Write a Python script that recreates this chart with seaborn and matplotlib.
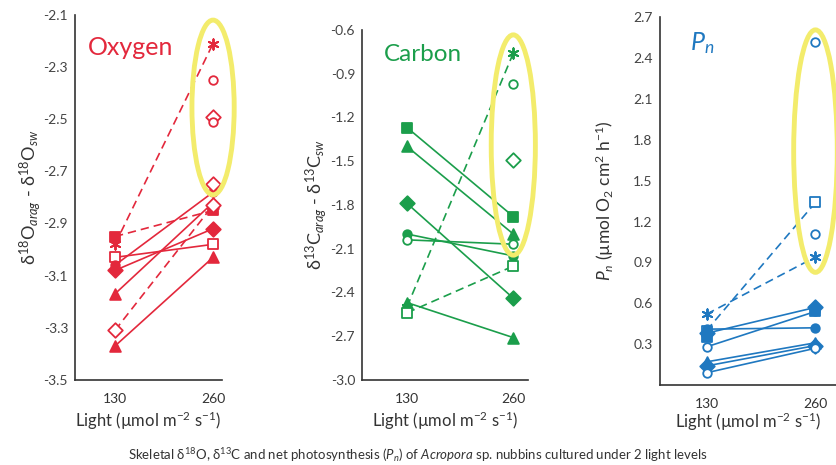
import seaborn as sns
import matplotlib.pyplot as plt
import numpy as np
import pandas as pd
from matplotlib.patches import Ellipse

LIGHT = [130, 260]

# Oxygen: per-nubbin values at 130 and 260
ox_marker = ['^', '^', 'D', 's', 'o', 's', '*', 'D']
ox_filled = [True, True, True, False, True, True, True, False]
ox_130 = [-3.37, -3.17, -3.08, -3.03, -3.06, -2.95, -2.98, -3.31]
ox_260 = [-3.03, -2.82, -2.92, -2.98, -2.78, -2.85, -2.21, -2.83]
ox_dash = [False, False, False, False, False, True, True, True]
ox_extra_marker = ['o', 'D', 'o', 'D']
ox_extra_260 = [-2.35, -2.49, -2.51, -2.75]

# Carbon
c_marker = ['s', '^', 'D', 'o', 'o', '^', '*', 's']
c_filled = [True, True, True, True, False, True, True, False]
c_130 = [-1.27, -1.40, -1.79, -2.00, -2.04, -2.47, -2.50, -2.54]
c_260 = [-1.88, -2.00, -2.44, -2.15, -2.07, -2.71, -0.76, -2.22]
c_dash = [False, False, False, False, False, False, True, True]
c_extra_marker = ['o', 'D']
c_extra_260 = [-0.97, -1.49]

# Net photosynthesis
p_marker = ['*', 's', 'D', 'o', 'o', '^', 'D', 'o']
p_filled = [True, False, True, True, False, True, True, False]
p_130 = [0.52, 0.40, 0.38, 0.41, 0.28, 0.17, 0.14, 0.09]
p_260 = [0.94, 1.34, 0.57, 0.42, 0.54, 0.31, 0.29, 0.27]
p_dash = [True, True, False, False, False, False, False, False]
p_extra_marker = ['o', 'o', 's', 's']
p_extra_x = [260, 260, 130, 260]
p_extra_y = [2.52, 1.11, 0.35, 0.54]

RED = '#e3283c'
GREEN = '#1b9e4b'
BLUE = '#1f78c0'
YELLOW = '#f3ec6c'
ASTERISK = (6, 2, 0)

sns.set_style('white')
plt.rcParams['font.family'] = ['Lato', 'DejaVu Sans']
plt.rcParams['mathtext.fontset'] = 'custom'
plt.rcParams['mathtext.rm'] = 'Lato'
plt.rcParams['mathtext.it'] = 'Lato:italic'
plt.rcParams['axes.unicode_minus'] = False

fig = plt.figure(figsize=(8.36, 4.65), dpi=100)
ax_o = fig.add_axes([0.0897, 0.183, 0.176, 0.785])
ax_c = fig.add_axes([0.433, 0.183, 0.1986, 0.753])
ax_p = fig.add_axes([0.789, 0.172, 0.2105, 0.791])


def mk_size(m):
    return {'*': 55, 'D': 55, 's': 55, '^': 60, 'o': 38}[m]


def scatter(ax, x, y, m, f, color):
    if m == '*':
        sns.scatterplot(x=x, y=y, ax=ax, marker=ASTERISK, s=mk_size(m),
                        zorder=4, color=color, edgecolor=color, linewidth=1.4)
    else:
        sns.scatterplot(x=x, y=y, ax=ax, marker=m, s=mk_size(m), zorder=4,
                        facecolor=color if f else 'white',
                        edgecolor=color, linewidth=1.3)


def draw_panel(ax, color, markers, filled, y1, y2, dashed):
    for m, f, a, b, d in zip(markers, filled, y1, y2, dashed):
        df = pd.DataFrame({'light': LIGHT, 'val': [a, b]})
        sns.lineplot(data=df, x='light', y='val', ax=ax, color=color,
                     lw=1.2, linestyle=(0, (5, 3)) if d else '-')
        scatter(ax, df['light'], df['val'], m, f, color)


def draw_extra(ax, color, markers, xs, ys, filled=None):
    for i, (m, x, y) in enumerate(zip(markers, xs, ys)):
        f = filled[i] if filled else False
        scatter(ax, [x], [y], m, f, color)


draw_panel(ax_o, RED, ox_marker, ox_filled, ox_130, ox_260, ox_dash)
draw_extra(ax_o, RED, ox_extra_marker, [260] * 4, ox_extra_260)
draw_panel(ax_c, GREEN, c_marker, c_filled, c_130, c_260, c_dash)
draw_extra(ax_c, GREEN, c_extra_marker, [260] * 2, c_extra_260)
draw_panel(ax_p, BLUE, p_marker, p_filled, p_130, p_260, p_dash)
draw_extra(ax_p, BLUE, p_extra_marker, p_extra_x, p_extra_y,
           [False, False, True, True])

# highlight ellipses
ax_o.add_patch(Ellipse((260, -2.455), 56, 0.67, fill=False, ec=YELLOW,
                       lw=3.5, zorder=5, clip_on=False))
ax_c.add_patch(Ellipse((260, -1.39), 54, 1.51, fill=False, ec=YELLOW,
                       lw=3.5, zorder=5, clip_on=False))
ax_p.add_patch(Ellipse((260, 1.717), 52, 1.78, fill=False, ec=YELLOW,
                       lw=3.5, zorder=5, clip_on=False))

ax_o.set_xlim(77, 272)
ax_o.set_ylim(-3.5, -2.1)
ax_o.set_yticks(np.round(np.arange(-3.5, -2.09, 0.2), 1))
ax_c.set_xlim(75, 278)
ax_c.set_ylim(-3.0, -0.6)
ax_c.set_yticks(np.round(np.arange(-3.0, -0.59, 0.3), 1))
ax_p.set_xlim(74, 284)
ax_p.set_ylim(0, 2.7)
ax_p.set_yticks(np.round(np.arange(0.3, 2.71, 0.3), 1))

light_label = 'Light (µmol m$^{-2}$ s$^{-1}$)'
ax_o.set_ylabel(r'δ$^{18}$O$_{arag}$ - δ$^{18}$O$_{sw}$', fontsize=13, color='#333333')
ax_c.set_ylabel(r'δ$^{13}$C$_{arag}$ - δ$^{13}$C$_{sw}$', fontsize=13, color='#333333')
ax_p.set_ylabel(r'$\mathit{P_n}$ (µmol O$_2$ cm$^2$ h$^{-1}$)', fontsize=12.5, color='#333333')
ax_o.yaxis.set_label_coords(-0.22, 0.5)
ax_c.yaxis.set_label_coords(-0.20, 0.5)
ax_p.yaxis.set_label_coords(-0.25, 0.5)

for ax in (ax_o, ax_c, ax_p):
    ax.set_xticks(LIGHT)
    ax.set_xticklabels(['130', '260'])
    ax.set_xlabel(light_label, fontsize=12, color='#333333',
                  labelpad=0 if ax is ax_p else 3)
    ax.patch.set_alpha(0)
    for s in ('top', 'right'):
        ax.spines[s].set_visible(False)
    for s in ('left', 'bottom'):
        ax.spines[s].set_color('#333333')
        ax.spines[s].set_linewidth(1.2)
    ax.tick_params(axis='y', direction='in', length=5, width=1.1,
                   labelsize=10, colors='#333333', pad=5)
    ax.tick_params(axis='x', direction='inout', length=7, width=1.1,
                   labelsize=10, colors='#333333', pad=6)
    ax.tick_params(axis='y', labelcolor='#444444')

ax_o.text(0.09, 0.91, 'Oxygen', transform=ax_o.transAxes, color=RED,
          fontsize=18, va='center')
ax_c.text(0.13, 0.93, 'Carbon', transform=ax_c.transAxes, color=GREEN,
          fontsize=17.5, va='center')
ax_p.text(0.17, 0.93, r'$\mathit{P_n}$', transform=ax_p.transAxes, color=BLUE,
          fontsize=18, va='center')

fig.text(0.5, 0.012,
         r'Skeletal δ$^{18}$O, δ$^{13}$C and net photosynthesis ($\mathit{P_n}$) of '
         r'$\mathit{Acropora}$ sp. nubbins cultured under 2 light levels',
         ha='center', fontsize=9.5, color='#333333')

fig.savefig('out.png', dpi=100)
